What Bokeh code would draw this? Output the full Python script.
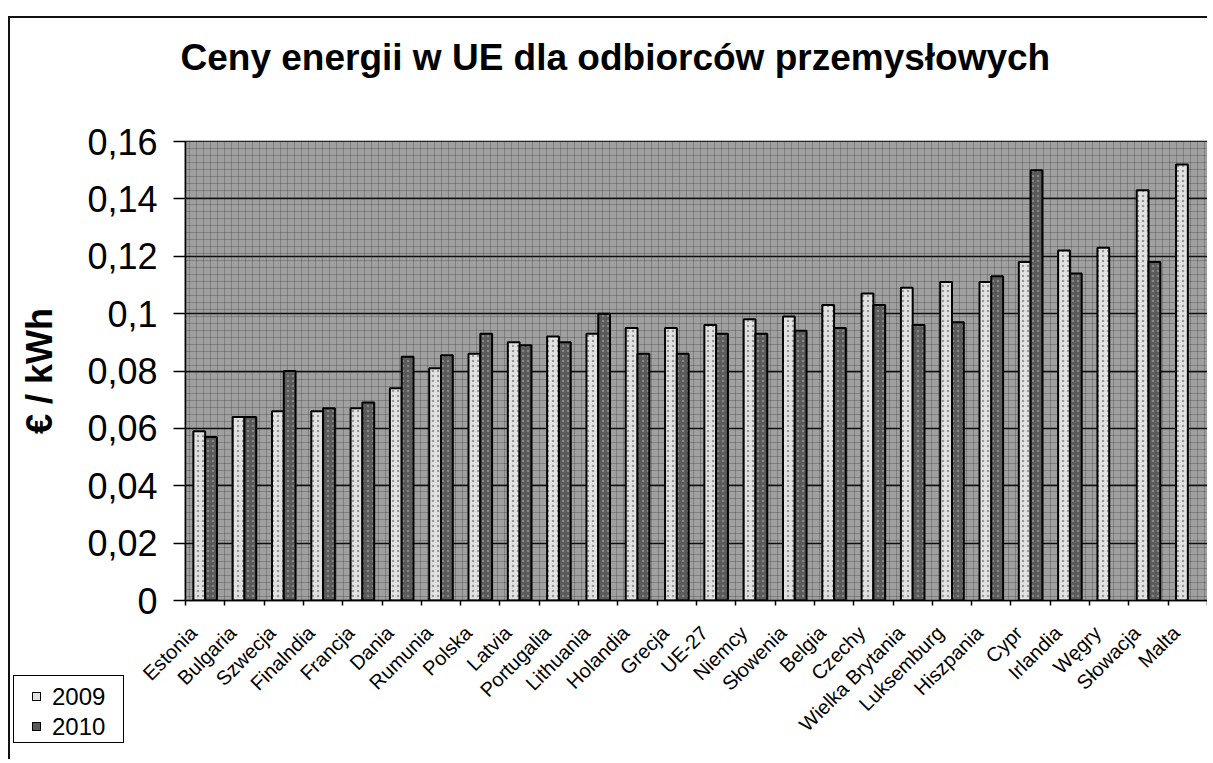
import numpy as np
from bokeh.plotting import figure
from bokeh.models import Range1d, FixedTicker, ColumnDataSource, BoxAnnotation, Title, Div, Spacer
from bokeh.layouts import column, row
from bokeh.transform import dodge
from bokeh.embed import file_html
from bokeh.resources import INLINE
from math import pi

countries = ["Estonia", "Bulgaria", "Szwecja", "Finalndia", "Francja", "Dania", "Rumunia",
             "Polska", "Latvia", "Portugalia", "Lithuania", "Holandia", "Grecja", "UE-27",
             "Niemcy", "Słowenia", "Belgia", "Czechy", "Wielka Brytania", "Luksemburg",
             "Hiszpania", "Cypr", "Irlandia", "Węgry", "Słowacja", "Malta"]
y2009 = [0.059, 0.064, 0.066, 0.066, 0.067, 0.074, 0.081, 0.086, 0.090, 0.092, 0.093, 0.095,
         0.095, 0.096, 0.098, 0.099, 0.103, 0.107, 0.109, 0.111, 0.111, 0.118, 0.122, 0.123,
         0.143, 0.152]
y2010 = [0.057, 0.064, 0.080, 0.067, 0.069, 0.085, 0.0855, 0.093, 0.089, 0.090, 0.100, 0.086,
         0.086, 0.093, 0.093, 0.094, 0.095, 0.103, 0.096, 0.097, 0.113, 0.150, 0.114, None,
         0.118, None]
series_names = ["2009", "2010"]
y_ticks = [0, 0.02, 0.04, 0.06, 0.08, 0.1, 0.12, 0.14, 0.16]
y_tick_labels = ["0", "0,02", "0,04", "0,06", "0,08", "0,1", "0,12", "0,14", "0,16"]
title_text = "Ceny energii w UE dla odbiorców przemysłowych"
y_label = "€ / kWh"

COL09 = "#e2e2e2"
COL10 = "#5a5a5a"

n = len(countries)
centers = [i + 0.5 for i in range(n)]
src09 = ColumnDataSource(dict(x=centers, top=y2009))
x10 = [c for c, v in zip(centers, y2010) if v is not None]
t10 = [v for v in y2010 if v is not None]
src10 = ColumnDataSource(dict(x=x10, top=t10))

W, H = 1199, 743
p = figure(width=W, height=H, x_range=Range1d(0, n), y_range=Range1d(0, 0.16),
           output_backend="svg", toolbar_location=None,
           min_border_left=175, min_border_right=2, min_border_top=123, min_border_bottom=161)
p.styles = {"border-top": "2px solid #111", "border-left": "2px solid #111"}

# spacer title (closest to frame) then the real title
p.add_layout(Title(text=" ", text_font_size="1px", standoff=61), "above")
p.add_layout(Title(text=title_text, align="left", offset=-5, standoff=0,
                   text_font="Liberation Sans", text_font_size="37px",
                   text_font_style="bold", text_color="black"), "above")

# background of plot area
bg = BoxAnnotation(fill_color="#a0a0a0", fill_alpha=1.0, line_color=None,
                   hatch_pattern="cross", hatch_color="black", hatch_alpha=0.2,
                   hatch_scale=7, hatch_weight=1, level="image")
p.add_layout(bg)

p.outline_line_color = "black"
p.outline_line_width = 1.5
p.background_fill_color = "#a0a0a0"
p.border_fill_color = "white"

r09 = p.vbar(x=dodge("x", -0.15, range=p.x_range), top="top", width=0.3, bottom=0, source=src09,
             fill_color=COL09, line_color="black", line_width=2,
             hatch_pattern="dot", hatch_color="#666666", hatch_alpha=0.6, hatch_scale=5)
r10 = p.vbar(x=dodge("x", 0.15, range=p.x_range), top="top", width=0.3, bottom=0, source=src10,
             fill_color=COL10, line_color="black", line_width=2,
             hatch_pattern="dot", hatch_color="#bbbbbb", hatch_alpha=0.45, hatch_scale=5)

# grid
p.xgrid.grid_line_color = None
p.ygrid.ticker = FixedTicker(ticks=y_ticks)
p.ygrid.grid_line_color = "black"
p.ygrid.grid_line_width = 1.3
p.ygrid.grid_line_alpha = 0.9

# y axis
p.yaxis.ticker = FixedTicker(ticks=y_ticks)
p.yaxis.major_label_overrides = dict(zip(y_ticks, y_tick_labels))
p.yaxis.major_label_text_font = "Liberation Sans"
p.yaxis.major_label_text_font_size = "36px"
p.yaxis.major_label_text_color = "black"
p.yaxis.major_tick_out = 12
p.yaxis.major_tick_in = 0
p.yaxis.minor_tick_line_color = None
p.yaxis.major_label_standoff = 16
p.yaxis.axis_line_color = "black"
p.yaxis.axis_line_width = 1.5
p.yaxis.major_tick_line_color = "black"
p.yaxis.major_tick_line_width = 1.5
p.yaxis.axis_label = y_label
p.yaxis.axis_label_text_font = "Liberation Sans"
p.yaxis.axis_label_text_font_size = "36px"
p.yaxis.axis_label_text_font_style = "bold"
p.yaxis.axis_label_text_color = "black"
p.yaxis.axis_label_standoff = 24

# x axis: labels under each category, small ticks between categories
label_pos = [c - 0.3 for c in centers]
p.xaxis.ticker = FixedTicker(ticks=label_pos, minor_ticks=list(range(n + 1)))
p.xaxis.major_label_overrides = dict(zip(label_pos, countries))
p.xaxis.major_label_orientation = pi / 4
p.xaxis.major_label_text_font = "Liberation Sans"
p.xaxis.major_label_text_font_size = "20px"
p.xaxis.major_label_text_color = "black"
p.xaxis.major_tick_line_color = None
p.xaxis.major_tick_out = 0
p.xaxis.major_tick_in = 0
p.xaxis.major_label_standoff = 24
p.xaxis.minor_tick_out = 5
p.xaxis.minor_tick_in = 0
p.xaxis.minor_tick_line_color = "black"
p.xaxis.minor_tick_line_width = 1.5
p.xaxis.axis_line_color = "black"
p.xaxis.axis_line_width = 1.5

# legend box (bottom-left, outside the plot area)
rows = "".join(
    f'<div style="height:30px;line-height:30px;white-space:nowrap;">'
    f'<span style="display:inline-block;width:9px;height:9px;border:1px solid #000;'
    f'background:{c};margin-right:11px;vertical-align:middle;"></span>'
    f'<span style="vertical-align:middle;">{name}</span></div>'
    for name, c in zip(series_names, [COL09, COL10]))
leg_html = ('<div style="box-sizing:border-box;width:111px;height:68px;border:1.5px solid #000;'
            'background:#fff;font-family:\'Liberation Sans\',Arial,sans-serif;font-size:24px;'
            'color:#000;padding:4px 0 0 18px;">' + rows + '</div>')
leg = Div(text=leg_html, width=111, height=68,
          styles={"position": "absolute", "left": "8px", "top": "670px", "z-index": "10"})

layout = column(Spacer(height=16, width=W), row(Spacer(width=8, height=H), p), leg)
layout.styles = {"position": "relative"}

open("out.html", "w").write(file_html(layout, INLINE))
